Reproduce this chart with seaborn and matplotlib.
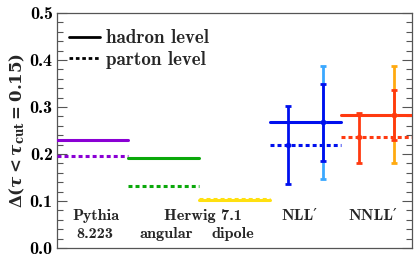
import numpy as np
import pandas as pd
import matplotlib
matplotlib.use("Agg")
import matplotlib.pyplot as plt
import seaborn as sns
from matplotlib.lines import Line2D
from matplotlib.ticker import MultipleLocator

# ---- data ----
groups = ["Pythia 8.223", "Herwig 7.1 angular", "Herwig 7.1 dipole", "NLL'", "NNLL'"]
hadron = [0.229, 0.191, 0.102, 0.267, 0.283]
parton = [0.195, 0.132, 0.105, 0.218, 0.236]
colors = ["#8a00d4", "#0aa80a", "#ffe010", "#0010ee", "#ff3a10"]

# uncertainty bars (group index, offset within group, centre, low, high, colour)
err_group = [3, 3, 3, 4, 4, 4]
err_offset = [0.25, 0.75, 0.75, 0.25, 0.75, 0.75]
err_center = [0.218, 0.267, 0.267, 0.236, 0.283, 0.283]
err_low = [0.136, 0.147, 0.184, 0.181, 0.181, 0.230]
err_high = [0.301, 0.387, 0.349, 0.287, 0.386, 0.336]
err_colors = ["#0010ee", "#3aa8ff", "#0010ee", "#ff3a10", "#ffaa10", "#ff3a10"]

labels_top = ["Pythia", "Herwig 7.1", "NLL\u2032", "NNLL\u2032"]
labels_top_x = [0.55, 2.06, 3.42, 4.44]
labels_bot = ["8.223", "angular", "dipole"]
labels_bot_x = [0.54, 1.54, 2.48]

sns.set_theme(style="ticks")
plt.rcParams["font.family"] = ["cmb10", "DejaVu Serif"]
plt.rcParams["mathtext.fontset"] = "custom"
plt.rcParams["mathtext.rm"] = "DejaVu Serif:bold"
plt.rcParams["mathtext.it"] = "DejaVu Serif:italic:bold"
plt.rcParams["mathtext.bf"] = "DejaVu Serif:bold"
plt.rcParams["axes.unicode_minus"] = False

fig = plt.figure(figsize=(4.15, 2.63), dpi=100)
ax = fig.add_axes([0.137, 0.057, 0.856, 0.894])
renderer = fig.canvas.get_renderer()


def fit_size(s, target_w, base=10.0):
    t = fig.text(0, 0, s, fontsize=base)
    w = t.get_window_extent(renderer).width
    t.remove()
    return base * target_w / w


ylabel_txt = r"$\Delta(\tau < \tau_{\rm cut} = 0.15)$"
fs_tick = fit_size("0.5", 23)
fs_leg = fit_size("hadron level", 103)
fs_lab = fit_size("Pythia", 47)
fs_ylab = fit_size(ylabel_txt, 156)

rows = []
for i, g in enumerate(groups):
    for lev, vals in (("hadron", hadron), ("parton", parton)):
        for edge in (0, 1):
            rows.append({"group": g, "level": lev, "x": i + edge, "y": vals[i]})
df = pd.DataFrame(rows)

dotted = (0, (1.3, 1.0))
for i, g in enumerate(groups):
    sub = df[df.group == g]
    sns.lineplot(data=sub[sub.level == "hadron"], x="x", y="y", color=colors[i],
                 lw=2.2, ax=ax, legend=False, zorder=3)
    sns.lineplot(data=sub[sub.level == "parton"], x="x", y="y", color=colors[i],
                 lw=2.2, ax=ax, legend=False, zorder=3, linestyle=dotted)

for k in range(len(err_group)):
    x = err_group[k] + err_offset[k]
    c = err_center[k]
    ax.errorbar([x], [c], yerr=[[c - err_low[k]], [err_high[k] - c]], fmt="o",
                ms=3, color=err_colors[k], ecolor=err_colors[k], elinewidth=2,
                capsize=2, capthick=2, zorder=4 + k % 3)

for t, x in zip(labels_top, labels_top_x):
    ax.text(x, 0.060, t, ha="center", va="baseline", fontsize=fs_lab)
for t, x in zip(labels_bot, labels_bot_x):
    ax.text(x, 0.021, t, ha="center", va="baseline", fontsize=fs_lab)

ax.set_xlim(0, 5)
ax.set_ylim(0, 0.5)
ax.set_xticks([])
ax.set_xlabel("")
ax.yaxis.set_major_locator(MultipleLocator(0.1))
ax.yaxis.set_minor_locator(MultipleLocator(0.02))
ax.yaxis.set_major_formatter(matplotlib.ticker.FormatStrFormatter("%.1f"))
ax.tick_params(axis="y", which="both", direction="in", left=True, right=True,
               labelsize=fs_tick, colors="#555555", labelcolor="black", pad=3)
ax.tick_params(axis="y", which="major", length=7, width=0.8)
ax.tick_params(axis="y", which="minor", length=4, width=0.8)
for s in ax.spines.values():
    s.set_color("#555555")
    s.set_linewidth(0.9)
ax.set_ylabel(ylabel_txt, fontsize=fs_ylab, labelpad=2)

handles = [Line2D([], [], color="black", lw=2),
           Line2D([], [], color="black", lw=2, linestyle=dotted)]
ax.legend(handles, ["hadron level", "parton level"], loc="upper left", frameon=False,
          fontsize=fs_leg, handlelength=1.63, handletextpad=0.3, borderaxespad=0,
          borderpad=0, labelspacing=0.2, bbox_to_anchor=(0.034, 0.93))

fig.savefig("out.png", dpi=100)
